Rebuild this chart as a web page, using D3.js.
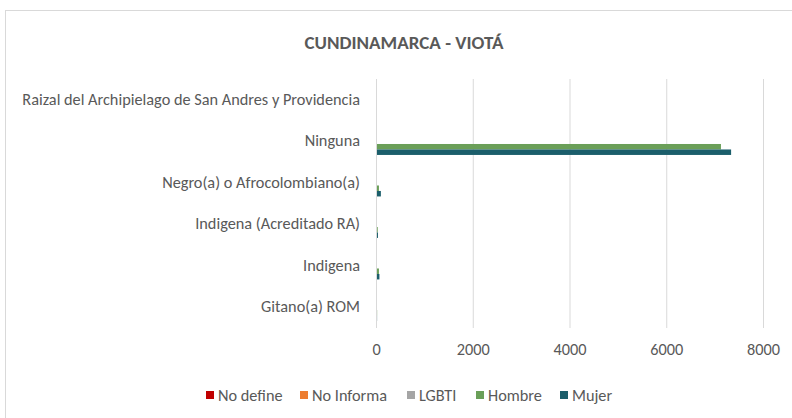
<!DOCTYPE html>
<html>
<head>
<meta charset="utf-8">
<script src="https://cdn.jsdelivr.net/npm/d3@7"></script>
<style>
  body { margin: 0; background: #fff; }
  svg { display: block; font-family: Carlito, Calibri, Lato, sans-serif; }
</style>
</head>
<body>
<svg></svg>
<script>
const categories = ["Raizal del Archipielago de San Andres y Providencia", "Ninguna", "Negro(a) o Afrocolombiano(a)", "Indigena (Acreditado RA)", "Indigena", "Gitano(a) ROM"];
const series = ["No define", "No Informa", "LGBTI", "Hombre", "Mujer"];
const colors = ["#c00000", "#ed7d31", "#a5a5a5", "#6a9f58", "#1b5e6b"];
const noDefine = [0, 0, 0, 0, 0, 0];
const noInforma = [0, 0, 0, 0, 0, 0];
const lgbti = [0, 0, 0, 0, 0, 0];
const hombre = [0, 7110, 40, 15, 40, 3];
const mujer = [0, 7320, 80, 20, 50, 2];
const xTicks = [0, 2000, 4000, 6000, 8000];

const values = [noDefine, noInforma, lgbti, hombre, mujer];
const font = "Carlito, Calibri, Lato, sans-serif";

const svg = d3.select("svg")
  .attr("width", 792)
  .attr("height", 418);

// chart border
svg.append("rect")
  .attr("x", 5.5).attr("y", 10.5)
  .attr("width", 800).attr("height", 420)
  .attr("fill", "#fff")
  .attr("stroke", "#d9d9d9");

svg.append("text")
  .attr("x", 404).attr("y", 49)
  .attr("text-anchor", "middle")
  .attr("font-size", 19).attr("font-weight", "bold")
  .attr("fill", "#595959")
  .text("CUNDINAMARCA - VIOTÁ");

let x = d3.scaleLinear().domain([0, 8000]).range([376, 763]);
let y = d3.scaleBand().domain(categories).range([79, 328]).paddingInner(0.34).paddingOuter(0.17);
let ySub = d3.scaleBand().domain(series).range([0, y.bandwidth()]);

// gridlines
svg.append("g")
  .selectAll("line")
  .data(xTicks)
  .enter()
  .append("line")
  .attr("x1", d => x(d) + 0.5).attr("x2", d => x(d) + 0.5)
  .attr("y1", 79).attr("y2", 328)
  .attr("stroke", "#d9d9d9");

// bars
series.forEach((s, i) => {
  svg.append("g")
    .selectAll("rect")
    .data(categories)
    .enter()
    .append("rect")
    .attr("x", x(0) + 1)
    .attr("y", d => y(d) + ySub(s))
    .attr("width", (d, j) => Math.max(0, x(values[i][j]) - x(0)))
    .attr("height", ySub.bandwidth())
    .attr("fill", colors[i]);
});

// x axis
let xAxis = svg.append("g")
  .attr("transform", "translate(0,328)")
  .call(d3.axisBottom(x).tickValues(xTicks).tickFormat(d3.format("d")).tickSize(0).tickPadding(15));
xAxis.select(".domain").remove();
xAxis.selectAll("text").attr("font-size", 16.3).attr("fill", "#595959").attr("font-family", font);

// y axis labels
let yAxis = svg.append("g")
  .attr("transform", "translate(376,0)")
  .call(d3.axisLeft(y).tickSize(0).tickPadding(16));
yAxis.select(".domain").remove();
yAxis.selectAll("text")
  .attr("font-size", 16.3).attr("fill", "#595959")
  .attr("font-family", font);

// legend
const legendX = [206, 300, 407, 476, 560];
let legend = svg.append("g")
  .selectAll("g")
  .data(series)
  .enter()
  .append("g")
  .attr("transform", (d, i) => `translate(${legendX[i]},395)`);
legend.append("rect")
  .attr("x", 0).attr("y", -4)
  .attr("width", 8).attr("height", 8)
  .attr("fill", (d, i) => colors[i]);
legend.append("text")
  .attr("x", 12).attr("y", 0)
  .attr("dy", "0.35em")
  .attr("font-size", 16.3).attr("fill", "#595959")
  .text(d => d);
</script>
</body>
</html>
